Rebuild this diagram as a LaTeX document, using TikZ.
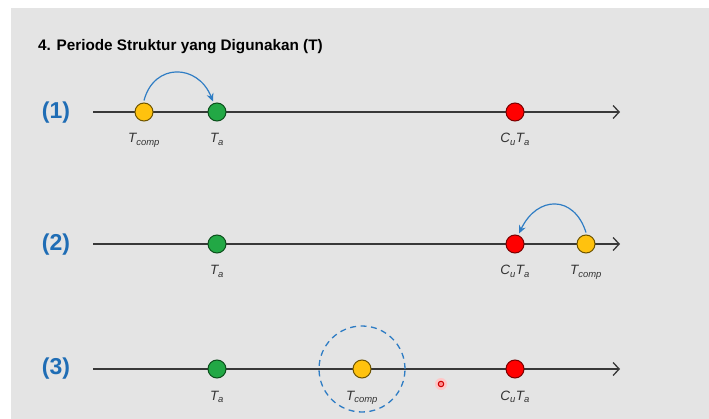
\documentclass[tikz,border=0pt]{standalone}
\usepackage{fontspec}
\setmainfont{Liberation Sans}
\usetikzlibrary{arrows.meta}
\definecolor{bg}{HTML}{E4E4E4}
\definecolor{ycol}{HTML}{FFC20E}
\definecolor{ydark}{HTML}{6E5400}
\definecolor{gcol}{HTML}{22A845}
\definecolor{gdark}{HTML}{0C4F1C}
\definecolor{rcol}{HTML}{FF0000}
\definecolor{rdark}{HTML}{7A0000}
\definecolor{bluec}{HTML}{2F7DC4}
\definecolor{rowblue}{HTML}{1F6DB5}
\definecolor{axisc}{HTML}{383838}
\tikzset{
  axis/.style={draw=axisc, line width=1.4pt, -{Straight Barb[length=6pt,width=13pt,line width=1.3pt]}},
  dot/.style={circle, minimum size=18pt, inner sep=0pt, line width=1pt},
  ydot/.style={dot, fill=ycol, draw=ydark},
  gdot/.style={dot, fill=gcol, draw=gdark},
  rdot/.style={dot, fill=rcol, draw=rdark},
  lab/.style={anchor=base, font=\fontsize{13.5}{15}\selectfont\itshape, text=black!80, inner sep=0pt},
  rowlab/.style={font=\bfseries\fontsize{23}{26}\selectfont, text=rowblue, inner sep=0pt},
  arc/.style={draw=bluec, line width=1.2pt, -{Stealth[length=8pt,width=7pt]}},
  ring/.style={circle, draw=bluec, dashed, dash pattern=on 6pt off 4.5pt, line width=1.3pt, minimum size=86pt, inner sep=0pt}
}
\newcommand{\tcomp}{T\textsubscript{comp}}
\newcommand{\ta}{T\textsubscript{a}}
\newcommand{\cuta}{C\textsubscript{u}T\textsubscript{a}}
\begin{document}
\begin{tikzpicture}[x=1pt,y=-1pt]
\useasboundingbox (0,0) rectangle (709,419);
\fill[white] (0,0) rectangle (709,419);
\fill[bg] (11,8) rectangle (709,419);

\node[anchor=west, font=\bfseries\fontsize{15.3}{18}\selectfont, inner sep=0pt] (title) at (38,47) {4. Periode Struktur yang Digunakan (T)};

% Row 1
\node[rowlab] (r1) at (56,113) {(1)};
\coordinate (s1) at (93,112);
\coordinate (e1) at (620,112);
\draw[axis] (s1) -- (e1);
\node[ydot] (y1) at (144,112) {};
\node[gdot] (g1) at (217,112) {};
\node[rdot] (d1) at (515,112) {};
\node[lab] (ly1) at (144,143) {\tcomp};
\node[lab] (lg1) at (217,143) {\ta};
\node[lab] (ld1) at (515,143) {\cuta};
\draw[arc] ([yshift=2pt]y1.north) .. controls +(10,-38) and +(-15,-38) .. ([xshift=-4pt,yshift=1pt]g1.north);

% Row 2
\node[rowlab] (r2) at (56,245) {(2)};
\coordinate (s2) at (93,244);
\coordinate (e2) at (620,244);
\draw[axis] (s2) -- (e2);
\node[gdot] (g2) at (217,244) {};
\node[rdot] (d2) at (515,244) {};
\node[ydot] (y2) at (586,244) {};
\node[lab] (lg2) at (217,275) {\ta};
\node[lab] (ld2) at (515,275) {\cuta};
\node[lab] (ly2) at (586,275) {\tcomp};
\draw[arc] ([yshift=2pt]y2.north) .. controls +(-12,-38) and +(18,-38) .. ([xshift=4pt,yshift=1pt]d2.north);

% Row 3
\node[rowlab] (r3) at (56,369) {(3)};
\coordinate (s3) at (93,369);
\coordinate (e3) at (620,369);
\draw[axis] (s3) -- (e3);
\node[gdot] (g3) at (217,369) {};
\node[ydot] (y3) at (362,369) {};
\node[rdot] (d3) at (515,369) {};
\node[lab] (lg3) at (217,400) {\ta};
\node[lab] (ly3) at (362,400) {\tcomp};
\node[lab] (ld3) at (515,400) {\cuta};
\node[ring] (ring3) at (y3) {};
\node[circle, fill=red!22, inner sep=0pt, minimum size=12pt] (ptr) at (441,384) {};
\node[circle, draw=red!80!black, fill=red!45, line width=1pt, inner sep=0pt, minimum size=5.5pt] (ptrc) at (ptr) {};
\end{tikzpicture}
\end{document}
